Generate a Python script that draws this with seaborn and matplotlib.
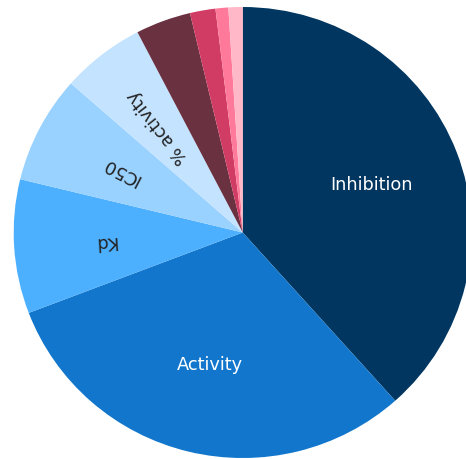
import numpy as np
import matplotlib
matplotlib.use("Agg")
import matplotlib.pyplot as plt
import seaborn as sns

# Share of records per measurement type
categories = ["Inhibition", "Activity", "Kd", "IC50", "% activity",
              "Other A", "Other B", "Other C", "Other D"]
shares = [38.4, 30.8, 9.6, 7.7, 5.9, 3.9, 1.8, 0.9, 1.0]
show_label = [True, True, True, True, True, False, False, False, False]
radial_label = [False, False, True, True, True, False, False, False, False]
palette = ["#003660", "#1277cc", "#4db0ff", "#99d1ff", "#c4e3ff",
           "#6a3140", "#d13c64", "#ff7a9a", "#ffb8c8"]
label_colors = ["white", "white", "#222222", "#222222", "#222222",
                "white", "white", "white", "white"]

sns.set_theme(style="white")
plt.rcParams["font.family"] = ["DejaVu Sans"]

fig = plt.figure(figsize=(4.66, 4.60), dpi=100)
ax = fig.add_axes([0, 0, 1, 1])

wedges, _ = ax.pie(shares, colors=palette, startangle=90, counterclock=False,
                   radius=1.0, wedgeprops=dict(linewidth=0))

ax.set_aspect("auto")
ax.set_xlim(-1.0598, 0.9751)
ax.set_ylim(-1.0044, 1.0355)
ax.axis("off")

for w, name, show, radial, col in zip(wedges, categories, show_label,
                                      radial_label, label_colors):
    if not show:
        continue
    mid = 0.5 * (w.theta1 + w.theta2)
    x = 0.6 * np.cos(np.radians(mid))
    y = 0.6 * np.sin(np.radians(mid))
    rot = mid if radial else 0
    ax.text(x, y, name, color=col, fontsize=12.8, ha="center", va="center",
            rotation=rot, rotation_mode="anchor")

fig.savefig("out.png", dpi=100)
